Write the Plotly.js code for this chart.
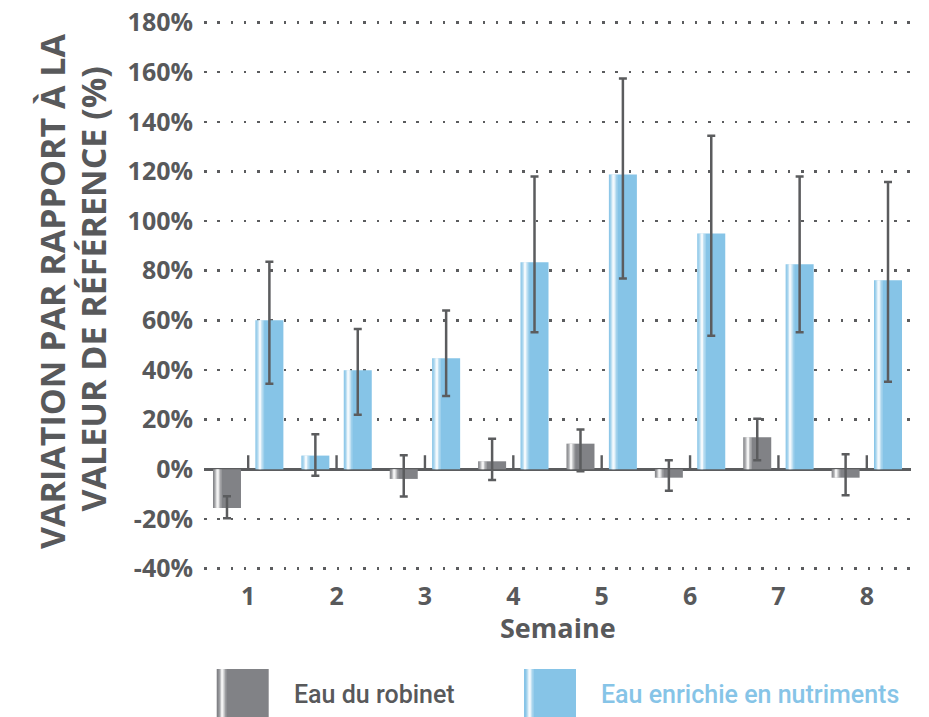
<!DOCTYPE html>
<html>
<head>
<meta charset="utf-8">
<script src="https://cdn.plot.ly/plotly-3.0.1.min.js"></script>
<style>
html, body { margin: 0; padding: 0; background: #ffffff; }
#chart { width: 929px; height: 717px; }
</style>
</head>
<body>
<div id="chart"></div>
<script>
// ---------------- DATA ----------------
const weeks = [1, 2, 3, 4, 5, 6, 7, 8];
const weekLabels = ['1', '2', '3', '4', '5', '6', '7', '8'];
const seriesNames = ['Eau du robinet', 'Eau enrichie en nutriments'];
const xTitle = 'Semaine';
const yTitleLines = ['VARIATION PAR RAPPORT À LA', 'VALEUR DE RÉFÉRENCE (%)'];

// Eau du robinet (tap water), % change vs baseline
const tapValues    = [-15.6, 5.5, -3.9, 3.2, 10.3, -3.4, 12.9, -3.4];
const tapErrPlus   = [4.7, 8.6, 9.5, 9.1, 5.7, 7.0, 7.4, 9.4];
const tapErrMinus  = [4.1, 8.1, 7.1, 7.5, 11.1, 5.3, 9.3, 7.1];

// Eau enrichie en nutriments, % change vs baseline
const enrValues    = [60.0, 39.9, 44.7, 83.4, 118.8, 95.0, 82.6, 76.1];
const enrErrPlus   = [23.6, 16.6, 19.3, 34.5, 38.6, 39.4, 35.3, 39.6];
const enrErrMinus  = [25.6, 17.9, 15.2, 28.2, 42.0, 41.2, 27.4, 40.9];

const yTickVals = [-40, -20, 0, 20, 40, 60, 80, 100, 120, 140, 160, 180];
const yTickText = yTickVals.map(v => v + '%');

// ---------------- STYLE ----------------
const GRAY = '#818286';
const BLUE = '#86c4e7';
const TEXT = '#58595b';
const DARK = '#5b5c5e';
// in the source chart the week-2 tap-water bar is drawn in the blue colour
const tapColors = weeks.map(w => (w === 2 ? BLUE : GRAY));
const enrColors = weeks.map(() => BLUE);

const W = 929, H = 717;
const M = { l: 204, r: 18, t: 20, b: 146 };
const PW = W - M.l - M.r, PH = H - M.t - M.b;
const Y_MIN = -41, Y_MAX = 181;
const unit = PW / 8;                         // px per category (x range is 8 wide)
const yUnit = PH / (Y_MAX - Y_MIN);          // px per percentage point
const BAR_W = 28 / unit;
const HALF_GAP = 21.2 / unit;
const tapOffset = -HALF_GAP - BAR_W / 2;
const enrOffset = HALF_GAP - BAR_W / 2;
const TICK_LEN = 14 / yUnit;                 // category tick length, in data units
const TICK_W = 2.4 / unit;                   // category tick thickness, in data units
const px2x = px => (px - M.l) / PW;
const py2y = py => (H - M.b - py) / PH;

// highlight stripe layers: [width px, shift px from bar's left edge, colour]
const SHINE = [
  [8, 0.8, 'rgba(255,255,255,0.22)'],
  [5, 2.2, 'rgba(255,255,255,0.38)'],
  [2.4, 3.4, 'rgba(255,255,255,0.8)']
];

function mainBar(name, y, colors, off, plus, minus) {
  return {
    type: 'bar', name: name, x: weeks, y: y,
    width: BAR_W, offset: off,
    marker: { color: colors, line: { width: 0 } },
    error_y: { type: 'data', symmetric: false, array: plus, arrayminus: minus,
               color: DARK, thickness: 2.5, width: 4 },
    hoverinfo: 'skip', showlegend: false, xaxis: 'x', yaxis: 'y'
  };
}
function stripe(y, off, wpx, dxpx, color) {
  return {
    type: 'bar', x: weeks, y: y,
    width: wpx / unit, offset: off + dxpx / unit,
    marker: { color: color, line: { width: 0 } },
    hoverinfo: 'skip', showlegend: false, xaxis: 'x', yaxis: 'y'
  };
}

const traces = [
  mainBar(seriesNames[0], tapValues, tapColors, tapOffset, tapErrPlus, tapErrMinus),
  mainBar(seriesNames[1], enrValues, enrColors, enrOffset, enrErrPlus, enrErrMinus)
];
[[tapValues, tapOffset], [enrValues, enrOffset]].forEach(([vals, off]) => {
  SHINE.forEach(([w, dx, c]) => traces.push(stripe(vals, off, w, dx, c)));
});

// category tick marks standing on the zero line (thin bars, one per week)
traces.push({
  type: 'bar', x: weeks, y: weeks.map(() => TICK_LEN),
  width: TICK_W, offset: -TICK_W / 2,
  marker: { color: DARK, line: { width: 0 } },
  hoverinfo: 'skip', showlegend: false, xaxis: 'x', yaxis: 'y'
});

const axFont = { family: 'Open Sans, sans-serif', size: 25, weight: 700, color: TEXT };

// legend drawn as shapes + annotations
function rectPx(x0, x1, y0, y1, color) {
  return { type: 'rect', xref: 'paper', yref: 'paper',
           x0: px2x(x0), x1: px2x(x1), y0: py2y(y1), y1: py2y(y0),
           fillcolor: color, line: { width: 0 }, layer: 'above' };
}
const legendSwatches = [
  { left: 216.7, color: GRAY },
  { left: 524, color: BLUE }
];
const shapes = [];
legendSwatches.forEach(s => {
  shapes.push(rectPx(s.left, s.left + 52, 669, 720, s.color));
  SHINE.forEach(([w, dx, c]) => shapes.push(rectPx(s.left + dx + 1, s.left + dx + 1 + w, 669, 720, c)));
});

const legendFont = { family: 'Roboto, sans-serif', size: 25, weight: 500 };
const titleFontY = { family: 'Open Sans, sans-serif', size: 34, weight: 700, color: TEXT };
const titleFontX = { family: 'Open Sans, sans-serif', size: 27, weight: 700, color: TEXT };
const annotations = [
  { xref: 'paper', yref: 'paper', x: px2x(292), y: py2y(694), xanchor: 'left', yanchor: 'middle',
    text: seriesNames[0], showarrow: false, font: Object.assign({}, legendFont, { color: TEXT }) },
  { xref: 'paper', yref: 'paper', x: px2x(599), y: py2y(694), xanchor: 'left', yanchor: 'middle',
    text: seriesNames[1], showarrow: false, font: Object.assign({}, legendFont, { color: BLUE }) },
  { xref: 'paper', yref: 'paper', x: px2x(557.5), y: py2y(627), xanchor: 'center', yanchor: 'middle',
    text: xTitle, showarrow: false, font: titleFontX },
  { xref: 'paper', yref: 'paper', x: px2x(51.5), y: py2y(291.5), xanchor: 'center', yanchor: 'middle',
    text: yTitleLines[0], textangle: -90, showarrow: false, font: titleFontY },
  { xref: 'paper', yref: 'paper', x: px2x(92.5), y: py2y(289), xanchor: 'center', yanchor: 'middle',
    text: yTitleLines[1], textangle: -90, showarrow: false, font: titleFontY }
];

const layout = {
  width: W, height: H,
  margin: M,
  paper_bgcolor: '#ffffff', plot_bgcolor: '#ffffff',
  barmode: 'overlay',
  showlegend: false,
  xaxis: {
    range: [0.5, 8.5], tickmode: 'array', tickvals: weeks, ticktext: weekLabels,
    showgrid: false, zeroline: false, showline: false, ticks: '',
    tickfont: axFont, ticklabelstandoff: 8,
    fixedrange: true
  },
  yaxis: {
    range: [Y_MIN, Y_MAX], tickmode: 'array', tickvals: yTickVals, ticktext: yTickText,
    showgrid: true, gridcolor: DARK, gridwidth: 2.5, griddash: '2.5px,10.77px',
    zeroline: true, zerolinecolor: DARK, zerolinewidth: 2.6,
    showline: false, ticks: '', tickfont: axFont, ticklabelstandoff: 10,
    fixedrange: true
  },
  shapes: shapes,
  annotations: annotations
};

Plotly.newPlot('chart', traces, layout, { staticPlot: true, displayModeBar: false });
</script>
</body>
</html>
